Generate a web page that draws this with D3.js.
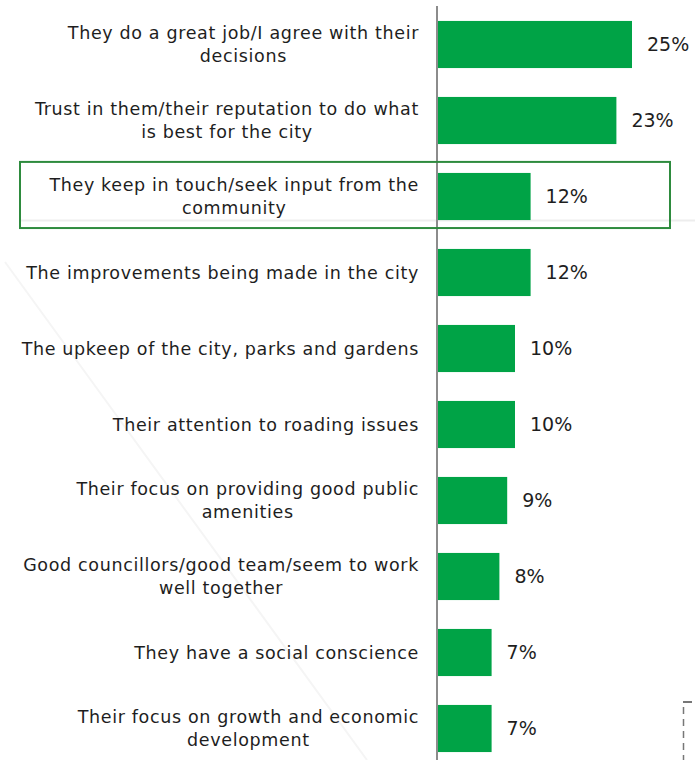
<!DOCTYPE html>
<html>
<head>
<meta charset="utf-8">
<script src="https://cdn.jsdelivr.net/npm/d3@7"></script>
<style>
  html, body { margin: 0; padding: 0; background: #fff; }
  svg { display: block; }
</style>
</head>
<body>
<svg id="chart" width="695" height="760"></svg>
<script>
const categories = [
  "They do a great job/I agree with their\ndecisions",
  "Trust in them/their reputation to do what\nis best for the city",
  "They keep in touch/seek input from the\ncommunity",
  "The improvements being made in the city",
  "The upkeep of the city, parks and gardens",
  "Their attention to roading issues",
  "Their focus on providing good public\namenities",
  "Good councillors/good team/seem to work\nwell together",
  "They have a social conscience",
  "Their focus on growth and economic\ndevelopment"
];
const values = [25, 23, 12, 12, 10, 10, 9, 8, 7, 7];
const highlighted = ["They keep in touch/seek input from the\ncommunity"];

const svg = d3.select("#chart");
const W = 695, H = 760;
const x0 = 437;
const FONT = "'DejaVu Sans', sans-serif";

const x = d3.scaleLinear().domain([0, 25]).range([x0, 632]);
const y = d3.scaleBand().domain(categories).range([6.5, 766.5])
  .paddingInner(0.38).paddingOuter(0.19);

// faint background lines
svg.append("line").attr("x1", 5).attr("y1", 262).attr("x2", 367).attr("y2", 760)
  .attr("stroke", "#f5f5f5").attr("stroke-width", 2);
svg.append("line").attr("x1", 20).attr("y1", 220.5).attr("x2", W).attr("y2", 220.5)
  .attr("stroke", "#ededed").attr("stroke-width", 2);

// bars
svg.append("g").selectAll("rect").data(categories).join("rect")
  .attr("x", x(0))
  .attr("y", d => y(d))
  .attr("width", (d, i) => x(values[i]) - x(0))
  .attr("height", y.bandwidth())
  .attr("fill", "#00a346");

// axis line
svg.append("line").attr("x1", x0).attr("x2", x0).attr("y1", 6).attr("y2", H)
  .attr("stroke", "#8c8c8c").attr("stroke-width", 2);

// category labels: block right-aligned at 419, lines centred within block
const labelRight = 419;
const lab = svg.append("g").selectAll("text").data(categories).join("text")
  .attr("text-anchor", "middle")
  .attr("font-family", FONT)
  .attr("font-size", 17.5)
  .attr("letter-spacing", 0.65)
  .attr("fill", "#1e1e1e");
lab.each(function(d) {
  const lines = d.split("\n");
  const cy = y(d) + y.bandwidth() / 2;
  const lh = 23;
  const start = cy - (lines.length - 1) * lh / 2;
  const t = d3.select(this);
  const sp = t.selectAll("tspan").data(lines).join("tspan")
    .attr("y", (l, j) => start + j * lh)
    .attr("dy", "0.36em")
    .text(l => l);
  let maxW = 0;
  sp.each(function() { maxW = Math.max(maxW, this.getComputedTextLength()); });
  sp.attr("x", labelRight - maxW / 2);
});

// value labels
svg.append("g").selectAll("text").data(categories).join("text")
  .attr("x", (d, i) => x(values[i]) + 15)
  .attr("y", d => y(d) + y.bandwidth() / 2)
  .attr("dy", "0.36em")
  .attr("font-family", FONT)
  .attr("font-size", 19)
  .attr("fill", "#1e1e1e")
  .text((d, i) => values[i] + "%");

// highlight box
svg.append("g").selectAll("rect").data(highlighted).join("rect")
  .attr("x", 20)
  .attr("y", d => y(d) - y.step() * 0.145)
  .attr("width", 650)
  .attr("height", d => y.step() * 0.87)
  .attr("fill", "none")
  .attr("stroke", "#2e8b3e")
  .attr("stroke-width", 2);

// dashed marker at bottom right
svg.append("line").attr("x1", 683).attr("x2", 692).attr("y1", 702).attr("y2", 702)
  .attr("stroke", "#777").attr("stroke-width", 2);
svg.append("line").attr("x1", 683.5).attr("x2", 683.5).attr("y1", 707).attr("y2", H)
  .attr("stroke", "#777").attr("stroke-width", 1.5).attr("stroke-dasharray", "7,5");
</script>
</body>
</html>
